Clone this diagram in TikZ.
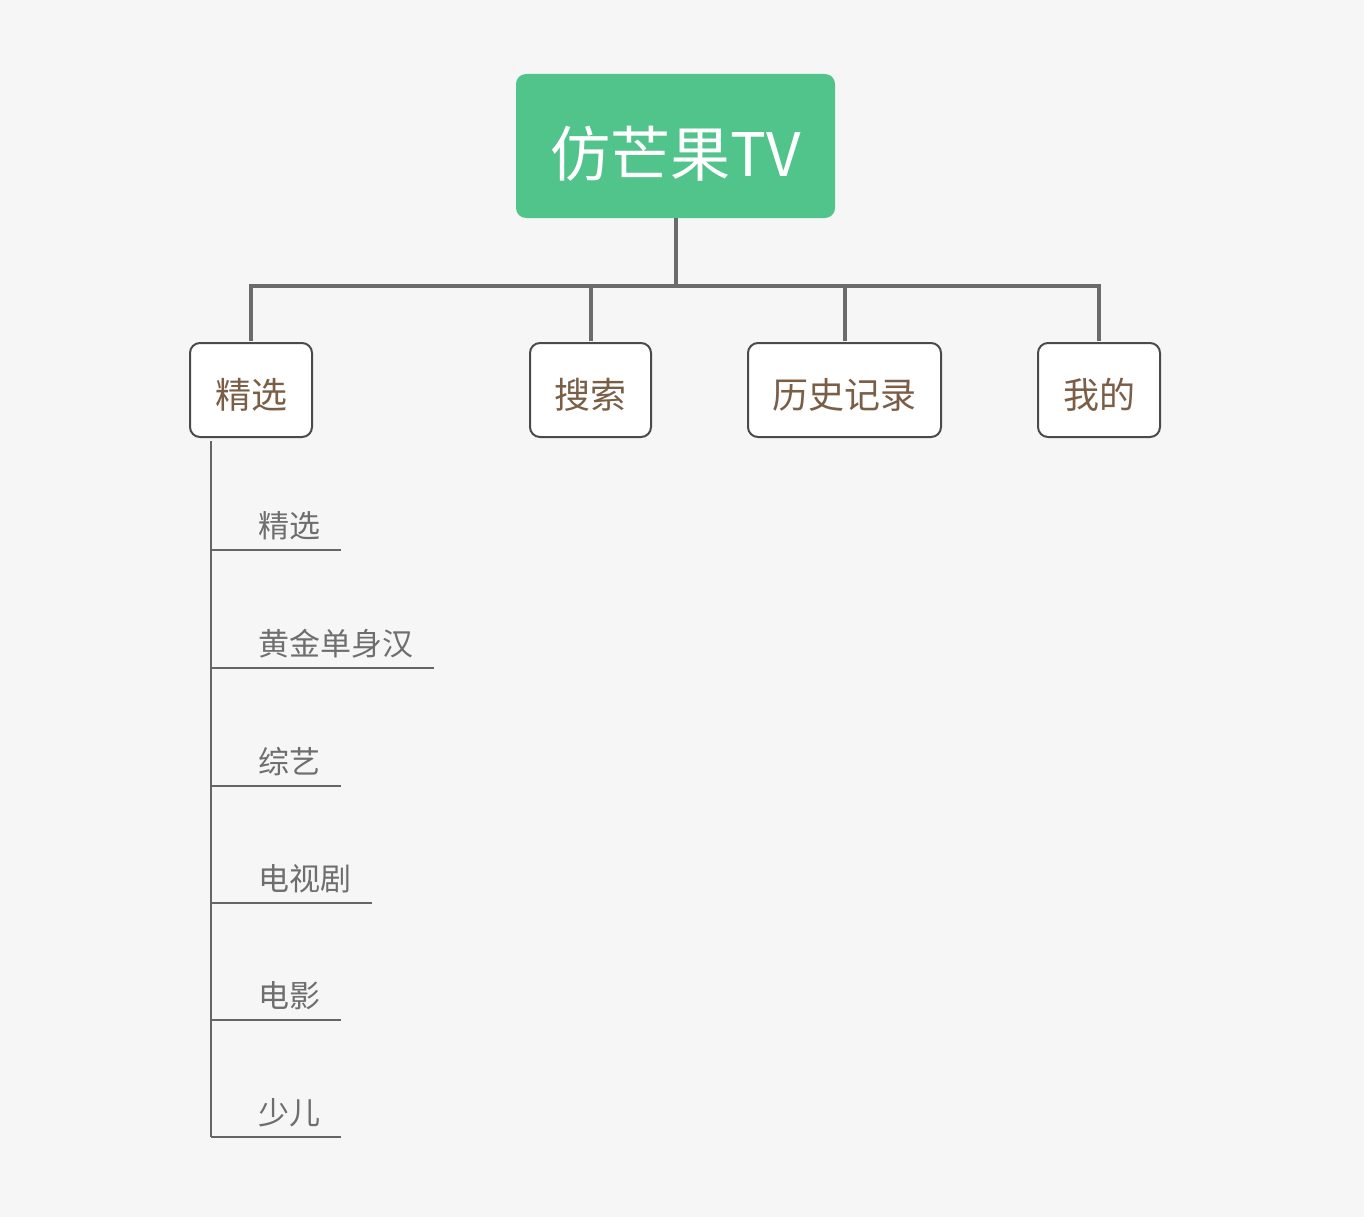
\documentclass[tikz,border=0pt]{standalone}
\usepackage{fontspec}
\setmainfont{Noto Sans CJK SC}
\usetikzlibrary{calc,positioning}
\definecolor{bgc}{HTML}{F6F6F6}
\definecolor{rootc}{HTML}{50C48A}
\definecolor{brownc}{HTML}{7A5E46}
\definecolor{linec}{HTML}{6B6B6B}
\definecolor{framec}{HTML}{4A4A4A}
\definecolor{subc}{HTML}{6E6E6E}
\begin{document}
\begin{tikzpicture}[
                x=1pt,y=-1pt,
                rootbox/.style={fill=rootc,text=white,rounded corners=10pt,inner sep=0pt,minimum width=319pt,minimum height=144pt,text height=65pt,text depth=4pt,font=\fontsize{60}{70}\selectfont},
                tabbox/.style={draw=framec,line width=2pt,fill=white,text=brownc,rounded corners=10pt,inner sep=0pt,minimum width=#1,minimum height=94pt,text height=39pt,text depth=2pt,font=\fontsize{36}{42}\selectfont},
                subitem/.style={anchor=south west,inner sep=0pt,text=subc,font=\fontsize{31}{36}\selectfont},
                trunk/.style={draw=linec,line width=4pt},
                branch/.style={draw=framec!85!white,line width=2pt}
            ]
                \fill[bgc] (0,0) rectangle (1364,1217);
                \node (root) [rootbox] at (675.5,146) {仿芒果TV};
                \node (jx) [tabbox=122pt] at (251,390) {精选};
                \node (ss) [tabbox=121pt] at (590.5,390) {搜索};
                \node (ls) [tabbox=193pt] at (844.5,390) {历史记录};
                \node (wd) [tabbox=122pt] at (1099,390) {我的};
                \coordinate (bus) at (root.south |- 0,286);
                \draw[trunk] (root.south) -- (bus);
                \foreach \b in {jx,ss,ls,wd}
                    \draw[trunk] ([yshift=1pt]\b.north) |- (bus);
                \coordinate (stem) at ([xshift=-40pt,yshift=-3pt]jx.south);
                \foreach \n/\t/\y in {s1/精选/550,s2/黄金单身汉/668,s3/综艺/786,s4/电视剧/903,s5/电影/1020,s6/少儿/1137}{
                    \node (\n) [subitem] at (258,\y-10) {\t};
                    \draw[branch] (stem |- 0,\y) -- ([xshift=21pt,yshift=-10pt]\n.south east);
                }
                \draw[branch,line width=2.5pt] (stem) -- (stem |- s6.south) -- ++(0,-10pt);
            \end{tikzpicture}
\end{document}
